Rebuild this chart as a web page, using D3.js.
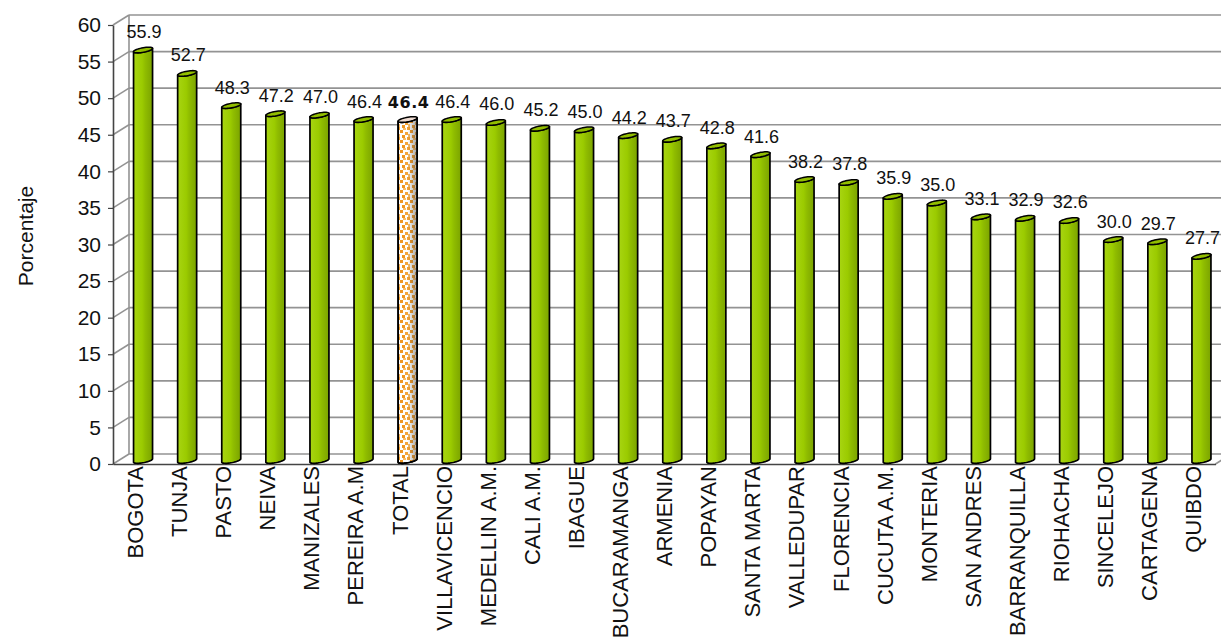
<!DOCTYPE html>
<html>
<head>
<meta charset="utf-8">
<script src="https://cdn.jsdelivr.net/npm/d3@7"></script>
<style>
  html, body { margin: 0; padding: 0; background: #fff; }
  svg { display: block; font-family: "Liberation Sans", Arial, sans-serif; }
</style>
</head>
<body>
<svg id="chart" width="1221" height="637"></svg>
<script>
// ---- data ----
const categories = ["BOGOTA","TUNJA","PASTO","NEIVA","MANIZALES","PEREIRA A.M","TOTAL","VILLAVICENCIO","MEDELLIN A.M.","CALI A.M.","IBAGUE","BUCARAMANGA","ARMENIA","POPAYAN","SANTA MARTA","VALLEDUPAR","FLORENCIA","CUCUTA A.M.","MONTERIA","SAN ANDRES","BARRANQUILLA","RIOHACHA","SINCELEJO","CARTAGENA","QUIBDO"];
const values = [55.9,52.7,48.3,47.2,47.0,46.4,46.4,46.4,46.0,45.2,45.0,44.2,43.7,42.8,41.6,38.2,37.8,35.9,35.0,33.1,32.9,32.6,30.0,29.7,27.7];
const yTicks = [0,5,10,15,20,25,30,35,40,45,50,55,60];
const yTitle = "Porcentaje";
const highlight = "TOTAL";

// ---- layout ----
const svg = d3.select("#chart");
const plotLeft = 113, step = 44.1, plotBottom = 464, plotTop = 25;
const plotRight = plotLeft + step * categories.length;
const DX = 16, DY = -10;           // depth offset of back wall
const x = d3.scaleBand().domain(categories).range([plotLeft, plotRight]).padding(0);
const y = d3.scaleLinear().domain([0, 60]).range([plotBottom, plotTop]);

const defs = svg.append("defs");
const g1 = defs.append("linearGradient").attr("id","gGreen").attr("x1","0").attr("x2","1").attr("y1","0").attr("y2","0");
[["0%","#a8d512"],["45%","#9bcb00"],["62%","#8fbc00"],["100%","#7ba300"]].forEach(s=>g1.append("stop").attr("offset",s[0]).attr("stop-color",s[1]));
const g2 = defs.append("linearGradient").attr("id","gShade").attr("x1","0").attr("x2","1").attr("y1","0").attr("y2","0");
[["0%","#555",0],["50%","#555",0],["100%","#555",0.55]].forEach(s=>g2.append("stop").attr("offset",s[0]).attr("stop-color",s[1]).attr("stop-opacity",s[2]));
const pat = defs.append("pattern").attr("id","dots").attr("patternUnits","userSpaceOnUse").attr("width",10).attr("height",10);
pat.append("rect").attr("width",10).attr("height",10).attr("fill","#fff");
[[0,0,"#ef9520"],[5,2,"#f4a53a"],[2,5,"#ef9520"],[7,7,"#f2a030"],[8,4,"#f7bb66"],[3,8,"#f7bb66"]].forEach(p=>
  pat.append("rect").attr("x",p[0]).attr("y",p[1]).attr("width",3).attr("height",3).attr("fill",p[2]));

// ---- walls / grid ----
const grid = svg.append("g").attr("stroke","#939393").attr("stroke-width",1.6).attr("fill","none");
yTicks.forEach(t => {
  grid.append("line").attr("x1", plotLeft+DX).attr("x2", 1226).attr("y1", y(t)+DY).attr("y2", y(t)+DY);
  grid.append("line").attr("x1", plotLeft).attr("x2", plotLeft+DX).attr("y1", y(t)).attr("y2", y(t)+DY);
});
grid.append("line").attr("x1", plotLeft+DX).attr("x2", plotLeft+DX).attr("y1", y(60)+DY).attr("y2", y(0)+DY);
grid.append("line").attr("x1", plotRight).attr("x2", plotRight+DX).attr("y1", y(0)).attr("y2", y(0)+DY);

// ---- axes ----
const yAxis = svg.append("g").attr("transform",`translate(${plotLeft},0)`)
  .call(d3.axisLeft(y).tickValues(yTicks).tickSize(5).tickSizeOuter(0).tickPadding(7));
yAxis.select(".domain").attr("stroke","#444").attr("stroke-width",1.6);
yAxis.selectAll(".tick line").attr("stroke","#444").attr("stroke-width",1.2);
yAxis.selectAll(".tick text").attr("font-size",21).attr("fill","#111").attr("font-family","Liberation Sans, Arial, sans-serif");

const xAxis = svg.append("g").attr("transform",`translate(0,${plotBottom})`)
  .call(d3.axisBottom(x).tickSize(0).tickSizeOuter(0));
xAxis.select(".domain").attr("stroke","#444").attr("stroke-width",1.6);
xAxis.selectAll(".tick text")
  .attr("font-size",22).attr("fill","#111").attr("font-family","Liberation Sans, Arial, sans-serif")
  .attr("text-anchor","end").attr("transform","rotate(-90)")
  .attr("x",-2).attr("y",0).attr("dy","0.36em");

svg.append("text").attr("transform","translate(33,236) rotate(-90)")
  .attr("text-anchor","middle").attr("font-size",21).attr("fill","#111").text(yTitle);

// ---- cylinders ----
const a = 7.6, px = 5.7, py = -2.8;
const th = Math.atan2(px, a);
function pt(cx, cy, t){ return [cx + a*Math.cos(t) + px*Math.sin(t), cy + py*Math.sin(t)]; }
function arc(cx, cy, t0, t1, n){ const r=[]; for(let i=0;i<=n;i++){ r.push(pt(cx,cy,t0+(t1-t0)*i/n)); } return r; }
const line = d3.line();

const bars = svg.append("g");
categories.forEach((c, i) => {
  const v = values[i];
  const cx = x(c) + x.bandwidth()/2 + DX/2;
  const cyT = y(v) + DY/2, cyB = y(0) + DY/2 + 1.5;
  const tL = Math.PI + th, tR = 2*Math.PI + th;
  const body = arc(cx, cyB, tL, tR, 24).concat(arc(cx, cyT, tR, tL, 24));
  const isH = c === highlight;
  bars.append("path").attr("d", line(body) + "Z")
    .attr("fill", isH ? "url(#dots)" : "url(#gGreen)")
    .attr("stroke","#000").attr("stroke-width",1.7).attr("stroke-linejoin","round");
  if (isH) {
    bars.append("path").attr("d", line(body) + "Z").attr("fill","url(#gShade)").attr("stroke","#000").attr("stroke-width",1.7);
  }
  bars.append("path").attr("d", line(arc(cx, cyT, 0, 2*Math.PI, 40)) + "Z")
    .attr("fill", isH ? "#efdcd2" : "#92be00").attr("stroke","#000").attr("stroke-width",1.5);
  bars.append("text")
    .attr("x", cx + 1).attr("y", cyT - 12)
    .attr("text-anchor","middle")
    .attr("font-size", isH ? 16 : 18)
    .attr("font-weight", isH ? "bold" : "normal")
    .attr("font-family", isH ? "DejaVu Sans, sans-serif" : "Liberation Sans, Arial, sans-serif")
    .attr("letter-spacing", isH ? 0.6 : 0)
    .attr("fill","#111")
    .text(v.toFixed(1));
});
</script>
</body>
</html>
